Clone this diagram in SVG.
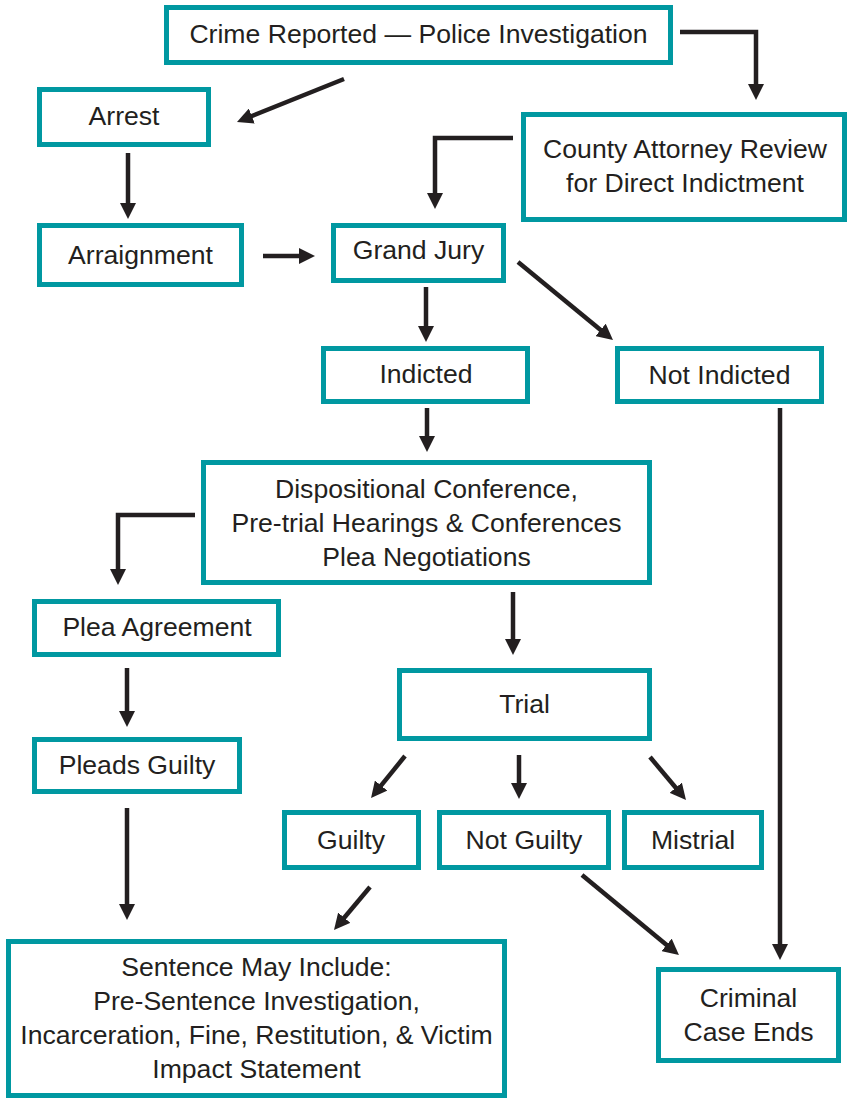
<svg xmlns="http://www.w3.org/2000/svg" width="847" height="1099" viewBox="0 0 847 1099">
<defs>
<style>
.box{fill:#ffffff;stroke:#0098a1;stroke-width:5}
.t{font-family:"Liberation Sans",Arial,sans-serif;font-size:26.6px;fill:#231f20;text-anchor:middle}
.c{fill:none;stroke:#231f20;stroke-width:4.5;marker-end:url(#ah)}
</style>
<marker id="ah" markerUnits="userSpaceOnUse" markerWidth="16" markerHeight="16" refX="4" refY="8" orient="auto">
<path d="M0,0 L16,8 L0,16 z" fill="#231f20"/>
</marker>
</defs>
<rect width="847" height="1099" fill="#ffffff"/>
<g id="connectors">
<path class="c" d="M680,32 H756 V88"/>
<path class="c" d="M344,79 L248.1,117.5"/>
<path class="c" d="M128,153 V207"/>
<path class="c" d="M263,256 H303"/>
<path class="c" d="M513,138 H435 V197"/>
<path class="c" d="M426,287 V330"/>
<path class="c" d="M518,262 L603.7,332.4"/>
<path class="c" d="M427,408 V440"/>
<path class="c" d="M780,408 V948"/>
<path class="c" d="M195,515 H118 V573"/>
<path class="c" d="M513,592 V643"/>
<path class="c" d="M127,668 V715"/>
<path class="c" d="M127,808 V908"/>
<path class="c" d="M405,756 L378.6,788.7"/>
<path class="c" d="M519,755 V787"/>
<path class="c" d="M650,757 L678.3,790.8"/>
<path class="c" d="M370,887 L341.7,920.8"/>
<path class="c" d="M582,875 L669.7,947.4"/>
</g>
<g id="crime"><rect class="box" x="166.5" y="7.5" width="504" height="55"/><text class="t" x="418.5" y="43">Crime Reported — Police Investigation</text></g>
<g id="arrest"><rect class="box" x="39.5" y="89.5" width="169" height="55"/><text class="t" x="124" y="125">Arrest</text></g>
<g id="arraignment"><rect class="box" x="39.5" y="225.5" width="202" height="59"/><text class="t" x="140.5" y="264">Arraignment</text></g>
<g id="county"><rect class="box" x="523.5" y="114.5" width="321" height="105"/><text class="t" x="685" y="158">County Attorney Review</text><text class="t" x="685" y="192">for Direct Indictment</text></g>
<g id="grandjury"><rect class="box" x="333.5" y="225.5" width="170" height="55"/><text class="t" x="418.5" y="259">Grand Jury</text></g>
<g id="indicted"><rect class="box" x="323.5" y="348.5" width="204" height="53"/><text class="t" x="426" y="383">Indicted</text></g>
<g id="notindicted"><rect class="box" x="617.5" y="348.5" width="204" height="53"/><text class="t" x="719.5" y="384">Not Indicted</text></g>
<g id="dispositional"><rect class="box" x="203.5" y="462.5" width="446" height="120"/><text class="t" x="426.5" y="498">Dispositional Conference,</text><text class="t" x="426.5" y="532">Pre-trial Hearings &amp; Conferences</text><text class="t" x="426.5" y="566">Plea Negotiations</text></g>
<g id="pleaagreement"><rect class="box" x="34.5" y="601.5" width="244" height="53"/><text class="t" x="157" y="636">Plea Agreement</text></g>
<g id="pleadsguilty"><rect class="box" x="34.5" y="739.5" width="205" height="52"/><text class="t" x="137" y="774">Pleads Guilty</text></g>
<g id="trial"><rect class="box" x="399.5" y="670.5" width="250" height="68"/><text class="t" x="524.5" y="713">Trial</text></g>
<g id="guilty"><rect class="box" x="284.5" y="812.5" width="134" height="55"/><text class="t" x="351" y="849">Guilty</text></g>
<g id="notguilty"><rect class="box" x="439.5" y="812.5" width="169" height="55"/><text class="t" x="524" y="849">Not Guilty</text></g>
<g id="mistrial"><rect class="box" x="624.5" y="812.5" width="137" height="55"/><text class="t" x="693" y="849">Mistrial</text></g>
<g id="sentence"><rect class="box" x="8.5" y="941.5" width="496" height="154"/><text class="t" x="256.5" y="976">Sentence May Include:</text><text class="t" x="256.5" y="1010">Pre-Sentence Investigation,</text><text class="t" x="256.5" y="1044">Incarceration, Fine, Restitution, &amp; Victim</text><text class="t" x="256.5" y="1078">Impact Statement</text></g>
<g id="criminalcaseends"><rect class="box" x="658.5" y="969.5" width="180" height="91"/><text class="t" x="748.5" y="1007">Criminal</text><text class="t" x="748.5" y="1041">Case Ends</text></g>
</svg>
